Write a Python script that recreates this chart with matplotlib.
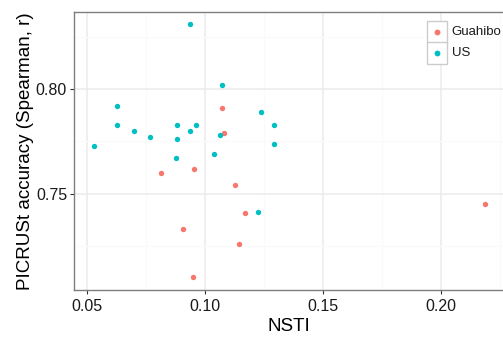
import matplotlib
matplotlib.use('Agg')
import matplotlib.pyplot as plt
from matplotlib.patches import Rectangle
from matplotlib.ticker import MultipleLocator

plt.rcParams['font.family'] = ['Liberation Sans', 'DejaVu Sans']

# NSTI vs PICRUSt accuracy
guahibo_nsti = [0.1073, 0.1081, 0.0952, 0.0815, 0.1128, 0.1168, 0.0907, 0.1144, 0.0950, 0.2189]
guahibo_r = [0.7910, 0.7791, 0.7620, 0.7599, 0.7540, 0.7409, 0.7330, 0.7260, 0.7100, 0.7449]

us_nsti = [0.0935, 0.1073, 0.0626, 0.0626, 0.0700, 0.0766, 0.0528, 0.0880, 0.0880,
           0.0935, 0.0961, 0.0876, 0.1062, 0.1038, 0.1236, 0.1292, 0.1292, 0.1227]
us_r = [0.8311, 0.8021, 0.7920, 0.7830, 0.7800, 0.7770, 0.7730, 0.7830, 0.7760,
        0.7800, 0.7830, 0.7670, 0.7781, 0.7690, 0.7890, 0.7829, 0.7740, 0.7411]

groups = ['Guahibo', 'US']
colors = ['#F8766D', '#00BFC4']
data = [(guahibo_nsti, guahibo_r), (us_nsti, us_r)]

W, H = 503, 337
fig = plt.figure(figsize=(W / 100, H / 100), dpi=100, facecolor='w')
ax = fig.add_axes([74 / W, (H - 289.5) / H, (503 - 74) / W, (289.5 - 12) / H])

for (x, y), col in zip(data, colors):
    ax.scatter(x, y, s=15, color=col, linewidths=0, zorder=3)

ax.set_xlim(0.0445, 0.2264)
ax.set_ylim(0.7041, 0.837)
ax.xaxis.set_major_locator(MultipleLocator(0.05))
ax.xaxis.set_minor_locator(MultipleLocator(0.025))
ax.yaxis.set_major_locator(MultipleLocator(0.05))
ax.yaxis.set_minor_locator(MultipleLocator(0.025))
ax.xaxis.set_major_formatter(matplotlib.ticker.FormatStrFormatter('%.2f'))
ax.yaxis.set_major_formatter(matplotlib.ticker.FormatStrFormatter('%.2f'))

ax.grid(which='major', color='#EBEBEB', lw=1.1, zorder=0)
ax.grid(which='minor', color='#FAFAFA', lw=1.0, zorder=0)
ax.set_axisbelow(True)
ax.tick_params(which='major', length=3, width=0.8, color='#333333', labelsize=11.5,
               labelcolor='#1a1a1a', pad=2)
ax.tick_params(axis='x', which='major', pad=4)
ax.tick_params(which='minor', length=0)

for side in ['left', 'top', 'bottom']:
    ax.spines[side].set_color('#7F7F7F')
    ax.spines[side].set_linewidth(1.0)
ax.spines['right'].set_visible(False)

ax.set_xlabel('NSTI', fontsize=13.5, labelpad=3)
ax.set_ylabel('PICRUSt accuracy (Spearman, r)', fontsize=13.5, labelpad=1.5)

# legend drawn by hand, ggplot style keys
kx, kw, kh, ktop = 427.3, 20, 21.5, 21
for i, (g, col) in enumerate(zip(groups, colors)):
    y0 = ktop + i * kh
    fig.patches.append(Rectangle(((kx) / W, (H - y0 - kh) / H), kw / W, kh / H,
                                 transform=fig.transFigure, facecolor='white',
                                 edgecolor='#CCCCCC', lw=1.0, zorder=5))
    fig.add_artist(plt.Line2D([(kx + kw / 2) / W], [(H - y0 - kh / 2) / H], marker='o',
                              ms=4.2, color=col, mec='none', transform=fig.transFigure,
                              zorder=6))
    fig.text((kx + kw + 4.5) / W, (H - y0 - kh / 2) / H, g, fontsize=9.5,
             va='center', ha='left', color='#1a1a1a')

fig.savefig('out.png', dpi=100, facecolor='w')
